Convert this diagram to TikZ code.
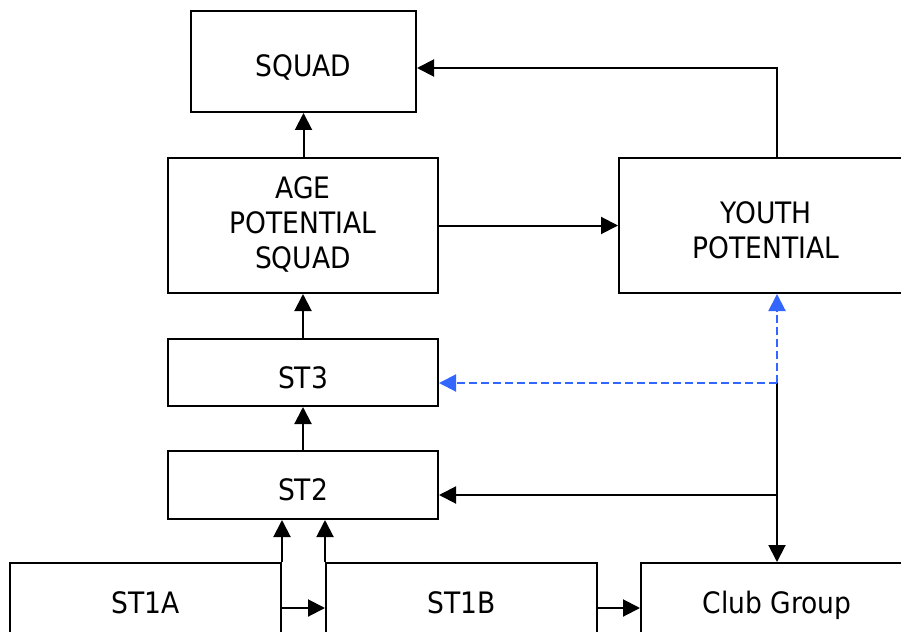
\documentclass[tikz,border=0pt]{standalone}
\usepackage{fontspec}
\setmainfont[FakeStretch=0.9]{DejaVu Sans}
\usetikzlibrary{arrows.meta}
\definecolor{dashblue}{RGB}{51,102,255}
\tikzset{
  box/.style={draw=black, line width=2pt, fill=white, align=center, inner sep=0pt,
    font=\fontsize{29.5pt}{35pt}\selectfont},
  oneline/.style={text height=31pt, text depth=0pt},
  txt/.style={align=center, inner sep=0pt, font=\fontsize{29.5pt}{35pt}\selectfont},
  arr/.style={line width=2pt, -{Triangle[length=17pt,width=17pt]}},
  barr/.style={draw=dashblue, line width=2pt, dash pattern=on 8pt off 4pt,
    -{Triangle[length=17pt,width=17pt,fill=dashblue]}},
}
\begin{document}
\begin{tikzpicture}[x=1pt,y=-1pt]
\useasboundingbox (0,0) rectangle (901,631);
\fill[white] (0,0) rectangle (901,631);
\clip (0,0) rectangle (901,631);
% boxes
\node[box, oneline, minimum width=225pt, minimum height=101pt] (squad) at (303.5,61.5) {SQUAD};
\node[box, minimum width=270pt, minimum height=135pt] (age) at (303,225.5) {};
\node[txt] (agetext) at (303,224) {AGE\\POTENTIAL\\SQUAD};
\node[box, minimum width=294pt, minimum height=135pt] (youth) at (766,225.5) {};
\node[txt] (youthtext) at (766,230) {YOUTH\\POTENTIAL};
\node[box, oneline, minimum width=270pt, minimum height=67pt] (st3) at (303,372.5) {ST3};
\node[box, oneline, minimum width=270pt, minimum height=68pt] (st2) at (303,485) {ST2};
\node[box, oneline, minimum width=271pt, minimum height=70pt] (st1a) at (145.5,598) {ST1A};
\node[box, oneline, minimum width=271pt, minimum height=70pt] (st1b) at (461.5,598) {ST1B};
\node[box, oneline, minimum width=272pt, minimum height=70pt] (club) at (777,598) {Club Group};
% helper coordinates
\coordinate (t1) at (777,68);
\coordinate (jn) at (777,383);
\coordinate (b2) at (777,495);
\coordinate (h) at (0,608);
% connectors
\draw[arr] (squad.south |- age.north) -- (squad.south);
\draw[arr] (youth.north -| t1) -- (t1) -- (t1 -| squad.east);
\draw[arr] (age.east) -- (youth.west);
\draw[arr] (st3.north) -- (st3.north |- age.south);
\draw[arr] (st2.north) -- (st2.north |- st3.south);
\draw[arr] (st1a.north east) -- (st1a.north east |- st2.south);
\draw[arr] (st1b.north west) -- (st1b.north west |- st2.south);
\draw[arr] (st1a.east |- h) -- (st1b.west |- h);
\draw[arr] (st1b.east |- h) -- (club.west |- h);
\draw[arr] (jn) -- (club.north);
\draw[arr] (b2) -- (b2 -| st2.east);
\draw[barr] (jn) -- (jn |- youth.south);
\draw[barr] (jn) -- (jn -| st3.east);
\end{tikzpicture}
\end{document}
